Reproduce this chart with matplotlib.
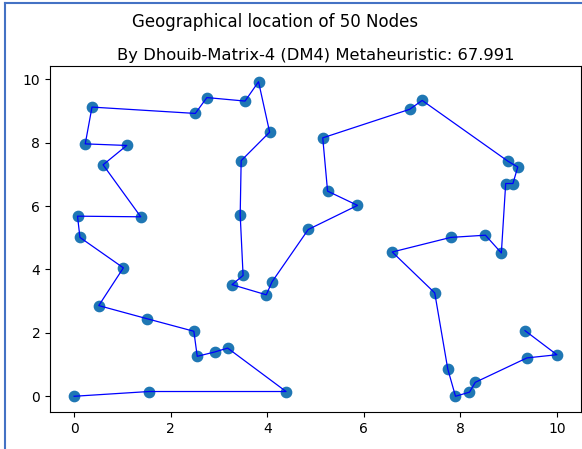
import matplotlib
matplotlib.use('Agg')
import matplotlib.pyplot as plt
from matplotlib.lines import Line2D

# Tour through the 50 nodes, in visiting order
x = [0.00, 1.55, 4.39, 3.18, 2.92, 2.55, 2.48, 1.50, 0.51, 1.02,
     0.12, 0.07, 1.38, 0.60, 1.09, 0.23, 0.37, 2.51, 2.75, 3.54,
     3.82, 4.05, 3.46, 3.44, 3.50, 3.27, 3.98, 4.10, 4.85, 5.87,
     5.25, 5.15, 6.95, 7.21, 8.99, 9.19, 9.09, 8.94, 8.85, 8.52,
     7.80, 6.59, 7.47, 7.74, 7.90, 8.19, 8.31, 9.38, 10.00, 9.34]
y = [0.00, 0.15, 0.15, 1.52, 1.40, 1.26, 2.05, 2.45, 2.86, 4.05,
     5.01, 5.68, 5.66, 7.30, 7.91, 7.96, 9.12, 8.92, 9.42, 9.31,
     9.92, 8.33, 7.43, 5.72, 3.81, 3.52, 3.20, 3.61, 5.26, 6.02,
     6.47, 8.15, 9.05, 9.33, 7.41, 7.23, 6.71, 6.71, 4.52, 5.08,
     5.01, 4.55, 3.26, 0.86, 0.00, 0.13, 0.44, 1.21, 1.31, 2.07]

title = "Geographical location of 50 Nodes"
subtitle = "By Dhouib-Matrix-4 (DM4) Metaheuristic: 67.991"

W, H = 582, 449
fig = plt.figure(figsize=(W / 100, H / 100), dpi=100)
ax = fig.add_axes([50 / W, 1 - 412 / H, 531 / W, 346 / H])

ax.scatter(x, y, s=55, color='#1f77b4', zorder=2)
ax.plot(x, y, color='blue', linewidth=0.9, zorder=3)

ax.set_xticks([0, 2, 4, 6, 8, 10])
ax.set_yticks([0, 2, 4, 6, 8, 10])
ax.tick_params(labelsize=10)
ax.set_title(subtitle, fontsize=11.8, pad=4)
fig.text(275 / W, 1 - 22 / H, title, ha='center', va='center', fontsize=12)

# blue frame of the screenshot
fig.add_artist(Line2D([5 / W, 5 / W], [0, 1 - 3 / H], color='#4472c4', linewidth=1.5))
fig.add_artist(Line2D([5 / W, 1], [1 - 3 / H, 1 - 3 / H], color='#4472c4', linewidth=1.5))

fig.savefig('out.png', dpi=100)
